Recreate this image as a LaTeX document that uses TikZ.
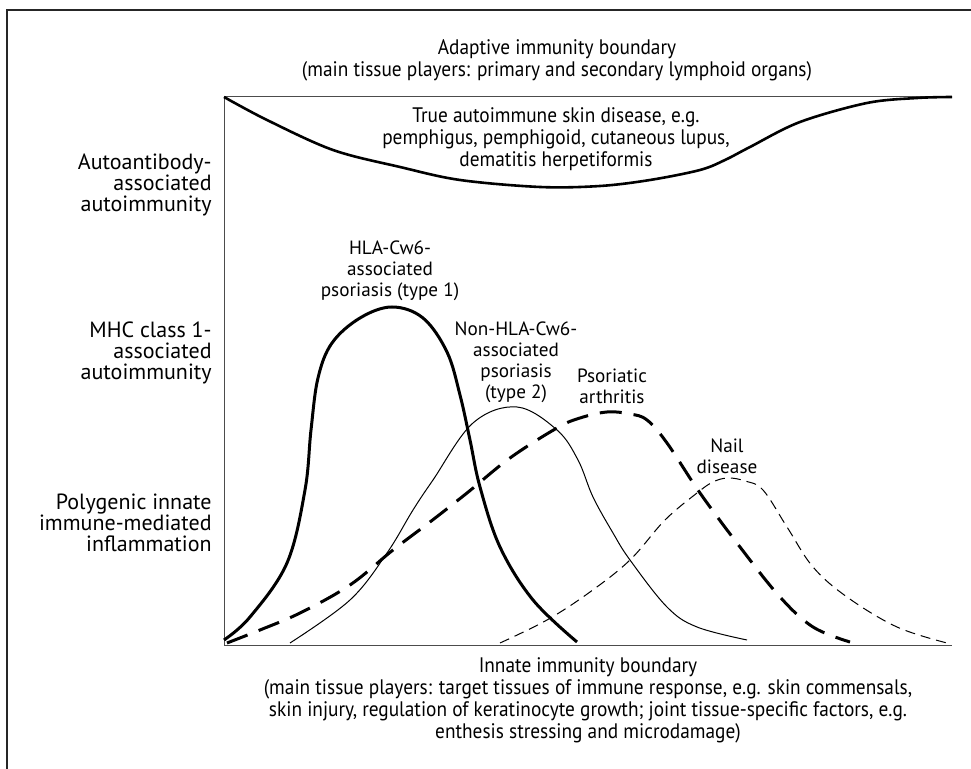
\documentclass[tikz,border=0pt]{standalone}
\usepackage{fontspec}
\setmainfont{PT Sans}
\newfontfamily\bndfont[FakeStretch=0.92]{PT Sans}
\usepackage{tikz}

\begin{document}
\begin{tikzpicture}[
  x=0.5pt,y=-0.5pt,
  frame/.style={line width=1pt,black!85},
  axis/.style={line width=0.5pt,black!70},
  bound/.style={line width=1.3pt,line join=round},
  typeone/.style={line width=1.5pt},
  typetwo/.style={line width=0.5pt},
  arth/.style={line width=1.5pt,dash pattern=on 11pt off 6pt},
  nailc/.style={line width=0.5pt,dash pattern=on 5pt off 3pt},
  side/.style={align=right,anchor=east,inner sep=0pt,font=\fontsize{11}{10.5}\selectfont},
  lab/.style={align=center,inner sep=0pt,font=\fontsize{9.6}{10.5}\selectfont},
  bnd/.style={align=center,inner sep=0pt,font=\bndfont\fontsize{10.5}{11}\selectfont}
]
\useasboundingbox (0,0) rectangle (971,769);

% outer frame (open to the right and bottom)
\coordinate (fl) at (7,769);
\coordinate (ft) at (7,10);
\coordinate (fr) at (971,10);
\draw[frame] (fl) -- (ft) -- (fr);

% axes
\coordinate (tl) at (224,97);
\coordinate (tr) at (952,97);
\coordinate (bl) at (224,646);
\coordinate (br) at (952,646);
\draw[axis] (tl) -- (bl) -- (br);
\draw[axis] (tl) -- (tr);

% adaptive boundary
\draw[bound] plot[smooth,tension=0.55] coordinates {(224,97) (267,120) (333,150) (400,167)
  (460,180) (540,187) (600,186) (650,180) (700,170) (725,160) (750,147) (800,122)
  (867,103) (917,98) (952,97)};

% disease curves
\draw[typeone] plot[smooth,tension=0.6] coordinates {(224,640) (250,617) (287,563) (305,490)
  (311,430) (318,378) (332,343) (360,318) (392,307) (423,318) (447,352) (460,395)
  (470,440) (480,487) (500,547) (533,600) (577,642)};
\draw[typetwo] plot[smooth,tension=0.6] coordinates {(290,643) (350,600) (387,553) (413,510)
  (433,480) (473,423) (517,407) (557,430) (578,460) (593,497) (613,533) (630,560)
  (667,607) (697,627) (747,640)};
\draw[arth] plot[smooth,tension=0.6] coordinates {(227,643) (260,630) (300,613) (350,585)
  (393,550) (430,522) (467,493) (510,458) (557,428) (580,418) (607,412) (630,414)
  (647,420) (667,443) (700,493) (740,547) (780,597) (813,627) (850,642)};
\draw[nailc] plot[smooth,tension=0.6] coordinates {(500,643) (547,620) (590,592) (630,560)
  (665,520) (697,493) (713,482) (728,478) (745,481) (763,490) (787,527) (813,567)
  (847,597) (897,627) (947,643)};

% boundary texts
\node[bnd] (adapt) at (557,60) {Adaptive immunity boundary\\
  (main tissue players: primary and secondary lymphoid organs)};
\node[bnd] (innate) at (588,700) {Innate immunity boundary\\
  (main tissue players: target tissues of immune response, e.g. skin commensals,\\
  skin injury, regulation of keratinocyte growth; joint tissue-specific factors, e.g.\\
  enthesis stressing and microdamage)};
\node[bnd] (autoim) at (556,139) {True autoimmune skin disease, e.g.\\
  pemphigus, pemphigoid, cutaneous lupus,\\
  dematitis herpetiformis};

% left labels
\node[side] (abody) at (212,185) {Autoantibody-\\associated\\autoimmunity};
\node[side] (mhc) at (212,353) {MHC class 1-\\associated\\autoimmunity};
\node[side] (poly) at (212,523) {Polygenic innate\\immune-mediated\\inflammation};

% curve labels
\node[lab] (hla) at (390,271) {HLA-Cw6-\\associated\\psoriasis (type 1)};
\node[lab] (nonhla) at (516,362) {Non-HLA-Cw6-\\associated\\psoriasis\\(type 2)};
\node[lab] (psa) at (612,386) {Psoriatic\\arthritis};
\node[lab] (nail) at (727,456) {Nail\\disease};
\end{tikzpicture}
\end{document}
